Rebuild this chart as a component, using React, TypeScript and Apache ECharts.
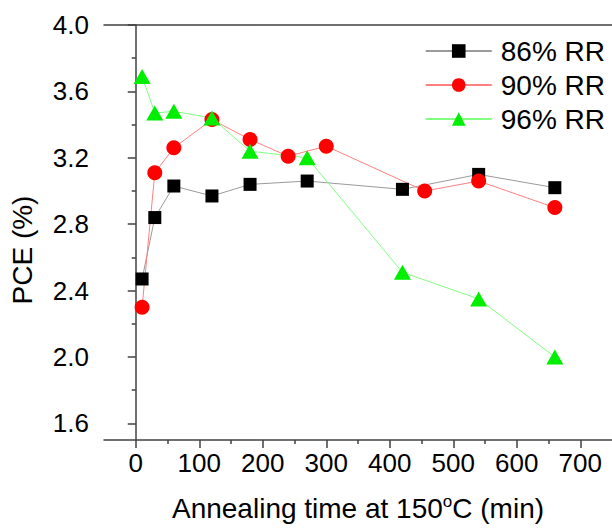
import React, { useEffect, useRef } from "react";
import * as echarts from "echarts";

const X_MAJOR = [0, 100, 200, 300, 400, 500, 600, 700];
const X_MINOR = [50, 150, 250, 350, 450, 550, 650];
const Y_MAJOR = [1.6, 2.0, 2.4, 2.8, 3.2, 3.6, 4.0];
const Y_MINOR = [1.8, 2.2, 2.6, 3.0, 3.4, 3.8];

const SERIES_NAMES = ["86% RR", "90% RR", "96% RR"];
const X86 = [10, 30, 60, 120, 180, 270, 420, 540, 660];
const Y86 = [2.47, 2.84, 3.03, 2.97, 3.04, 3.06, 3.01, 3.1, 3.02];
const X90 = [10, 30, 60, 120, 180, 240, 300, 455, 540, 660];
const Y90 = [2.3, 3.11, 3.26, 3.43, 3.31, 3.21, 3.27, 3.0, 3.06, 2.9];
const X96 = [10, 30, 60, 120, 180, 270, 420, 540, 660];
const Y96 = [3.69, 3.47, 3.48, 3.44, 3.24, 3.2, 2.51, 2.35, 2.0];

const FONT = "'Liberation Sans', Arial, sans-serif";
const AXIS_COLOR = "#404040";

const pair = (xs: number[], ys: number[]) => xs.map((x, i) => [x, ys[i]]);

export default function App() {
  const ref = useRef<HTMLDivElement>(null);
  useEffect(() => {
    if (!ref.current) return;
    const chart = echarts.init(ref.current, null, { renderer: "svg" });
    const xBase = {
      type: "value",
      min: -50,
      max: 750,
      gridIndex: 0,
      splitLine: { show: false },
    };
    const yBase = {
      type: "value",
      min: 1.5,
      max: 4.0,
      gridIndex: 0,
      splitLine: { show: false },
    };
    chart.setOption({
      animation: false,
      backgroundColor: "#fff",
      textStyle: { fontFamily: FONT },
      grid: { left: 104, top: 25, right: -4, bottom: 89, containLabel: false },
      xAxis: [
        {
          ...xBase,
          position: "bottom",
          axisLine: { show: true, lineStyle: { color: AXIS_COLOR, width: 1.5 } },
          axisTick: { show: true, length: 8, inside: false, customValues: X_MAJOR, lineStyle: { color: AXIS_COLOR, width: 1.5 } },
          axisLabel: { show: true, customValues: X_MAJOR, fontSize: 26, color: "#000", margin: 10, fontFamily: FONT },
          name: "{a|Annealing time at 150}{s|o}{a|C (min)}",
          nameLocation: "middle",
          nameGap: 53,
          nameTextStyle: {
            fontFamily: FONT,
            rich: {
              a: { fontSize: 28, color: "#000", fontFamily: FONT, lineHeight: 30 },
              s: { fontSize: 17, color: "#000", fontFamily: FONT, verticalAlign: "top", lineHeight: 30 },
            },
          },
        },
        {
          ...xBase,
          position: "bottom",
          axisLine: { show: false },
          axisTick: { show: true, length: 4, inside: false, customValues: X_MINOR, lineStyle: { color: AXIS_COLOR, width: 1.5 } },
          axisLabel: { show: false },
        },
        {
          ...xBase,
          position: "top",
          axisLine: { show: true, lineStyle: { color: AXIS_COLOR, width: 1.5 } },
          axisTick: { show: false },
          axisLabel: { show: false },
        },
      ],
      yAxis: [
        {
          ...yBase,
          position: "left",
          axisLine: { show: true, lineStyle: { color: AXIS_COLOR, width: 1.5 } },
          axisTick: { show: true, length: 8, inside: false, customValues: Y_MAJOR, lineStyle: { color: AXIS_COLOR, width: 1.5 } },
          axisLabel: {
            show: true,
            customValues: Y_MAJOR,
            fontSize: 26,
            color: "#000",
            margin: 15,
            fontFamily: FONT,
            formatter: (v: number) => v.toFixed(1),
          },
        },
        {
          ...yBase,
          position: "left",
          axisLine: { show: false },
          axisTick: { show: true, length: 4, inside: false, customValues: Y_MINOR, lineStyle: { color: AXIS_COLOR, width: 1.5 } },
          axisLabel: { show: false },
        },
      ],
      legend: {
        orient: "vertical",
        right: 2,
        top: 32,
        itemWidth: 66,
        itemHeight: 17,
        itemGap: 6,
        textStyle: { fontSize: 28, color: "#000", fontFamily: FONT, padding: [0, 0, 0, 4] },
        data: SERIES_NAMES,
      },
      graphic: [
        {
          type: "text",
          x: 22,
          y: 250,
          rotation: Math.PI / 2,
          style: {
            text: "PCE (%)",
            fontSize: 28,
            fontFamily: FONT,
            fill: "#000",
            textAlign: "center",
            textVerticalAlign: "middle",
          },
        },
      ],
      series: [
        {
          name: SERIES_NAMES[0],
          type: "line",
          xAxisIndex: 0,
          yAxisIndex: 0,
          data: pair(X86, Y86),
          symbol: "rect",
          symbolSize: 13,
          itemStyle: { color: "#000" },
          lineStyle: { color: "#9a9a9a", width: 1 },
        },
        {
          name: SERIES_NAMES[1],
          type: "line",
          xAxisIndex: 0,
          yAxisIndex: 0,
          data: pair(X90, Y90),
          symbol: "circle",
          symbolSize: 15,
          itemStyle: { color: "#ff0000" },
          lineStyle: { color: "#ff8080", width: 1 },
        },
        {
          name: SERIES_NAMES[2],
          type: "line",
          xAxisIndex: 0,
          yAxisIndex: 0,
          data: pair(X96, Y96),
          symbol: "triangle",
          symbolSize: [17, 15],
          itemStyle: { color: "#00ee00" },
          lineStyle: { color: "#80ff80", width: 1 },
        },
      ],
    });
    return () => chart.dispose();
  }, []);
  return (
    <div
      ref={ref}
      style={{ position: "absolute", left: 0, top: 0, width: 612, height: 529 }}
    />
  );
}
